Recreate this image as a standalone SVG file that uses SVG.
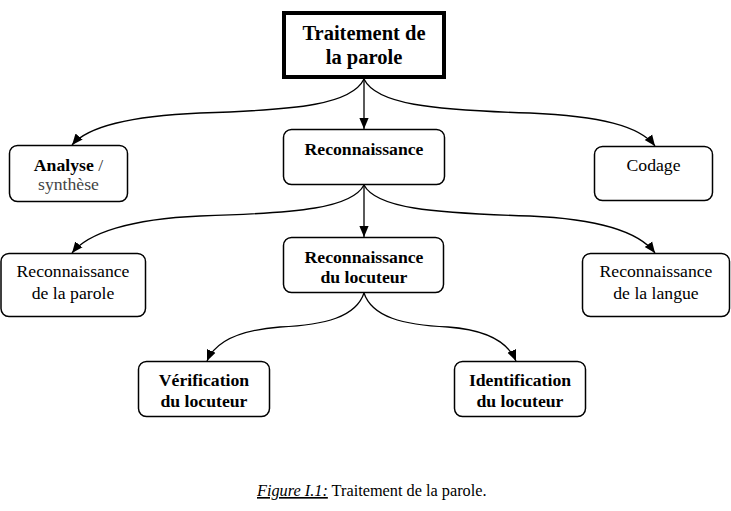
<svg xmlns="http://www.w3.org/2000/svg" width="731" height="511" viewBox="0 0 731 511">
<style>
.box{fill:#fff;stroke:#000;stroke-width:1.5}
.top{fill:#fff;stroke:#000;stroke-width:4}
.t{font-family:'Liberation Serif','Times New Roman','DejaVu Serif',serif;font-size:17.7px;fill:#000;text-anchor:middle}
.b{font-weight:bold}
.c{fill:none;stroke:#000;stroke-width:1.3}
</style>
<defs>
<marker id="ah" viewBox="0 0 10 10" refX="10" refY="5" markerWidth="11" markerHeight="11" markerUnits="userSpaceOnUse" orient="auto">
<path d="M0,0.8 L10,5 L0,9.2 Z" fill="#000"/>
</marker>
</defs>
<g id="connectors">
<path class="c" d="M364,79 L364,129" marker-end="url(#ah)"/>
<path class="c" d="M364,79 C352,104 300,110 200,113 C130,116 88,126 72,145" marker-end="url(#ah)"/>
<path class="c" d="M364,79 C376,104 430,110 530,113 C600,116 640,126 655,146" marker-end="url(#ah)"/>
<path class="c" d="M364,185 L364,237" marker-end="url(#ah)"/>
<path class="c" d="M364,185 C352,208 300,213 200,216 C130,219 88,233 72,253" marker-end="url(#ah)"/>
<path class="c" d="M364,185 C376,208 430,213 530,216 C600,219 640,233 655,253" marker-end="url(#ah)"/>
<path class="c" d="M364,293 C356,317 325,325 280,327 C240,330 215,342 207,361" marker-end="url(#ah)"/>
<path class="c" d="M364,293 C372,317 403,325 448,327 C488,330 508,342 516,361" marker-end="url(#ah)"/>
</g>
<g id="n-traitement">
<rect class="top" x="284" y="13" width="160" height="64"/>
<text class="t b" x="364" y="40" style="font-size:20.5px">Traitement de</text>
<text class="t b" x="364" y="64" style="font-size:20.5px">la parole</text>
</g>
<g id="n-analyse">
<rect class="box" x="9.5" y="145.5" width="118" height="56" rx="8"/>
<text class="t" x="68.5" y="171"><tspan class="b">Analyse</tspan><tspan style="fill:#333"> /</tspan></text>
<text class="t" x="68.5" y="190" style="fill:#444">synthèse</text>
</g>
<g id="n-reconnaissance">
<rect class="box" x="283.5" y="129.5" width="161" height="55" rx="8"/>
<text class="t b" x="364" y="155">Reconnaissance</text>
</g>
<g id="n-codage">
<rect class="box" x="594.5" y="146.5" width="118" height="54" rx="8"/>
<text class="t" x="653.5" y="171">Codage</text>
</g>
<g id="n-rec-parole">
<rect class="box" x="1" y="253.5" width="144.5" height="63" rx="8"/>
<text class="t" x="73" y="277">Reconnaissance</text>
<text class="t" x="73" y="299">de la parole</text>
</g>
<g id="n-rec-locuteur">
<rect class="box" x="283.5" y="237.5" width="160" height="55" rx="8"/>
<text class="t b" x="364" y="263">Reconnaissance</text>
<text class="t b" x="364" y="283">du locuteur</text>
</g>
<g id="n-rec-langue">
<rect class="box" x="582.5" y="253.5" width="147" height="63" rx="8"/>
<text class="t" x="656" y="277">Reconnaissance</text>
<text class="t" x="656" y="299">de la langue</text>
</g>
<g id="n-verification">
<rect class="box" x="138.5" y="361.5" width="131" height="55" rx="8"/>
<text class="t b" x="204" y="386">Vérification</text>
<text class="t b" x="204" y="407">du locuteur</text>
</g>
<g id="n-identification">
<rect class="box" x="454.5" y="361.5" width="131" height="55" rx="8"/>
<text class="t b" x="520" y="386">Identification</text>
<text class="t b" x="520" y="407">du locuteur</text>
</g>
<g id="caption">
<text x="257" y="496" font-family="Liberation Serif, Times New Roman, DejaVu Serif, serif" font-size="16.3" fill="#000"><tspan font-style="italic" text-decoration="underline">Figure I.1:</tspan> Traitement de la parole.</text>
</g>
</svg>
